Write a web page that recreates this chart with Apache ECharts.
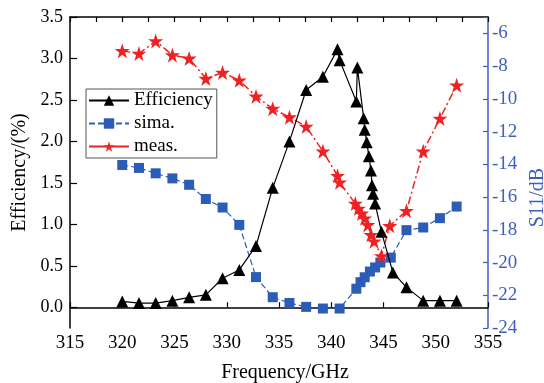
<!DOCTYPE html>
<html>
<head>
<meta charset="utf-8">
<script src="https://cdn.jsdelivr.net/npm/echarts@6/dist/echarts.min.js"></script>
<style>html,body{margin:0;padding:0;background:#fff;}#c{width:544px;height:383px;}</style>
</head>
<body>
<div id="c"></div>
<script>
// Efficiency (%) — left axis
const effFreq = [320, 321.6, 323.2, 324.8, 326.4, 328.0, 329.6, 331.2, 332.8, 334.4, 336.0, 337.6, 339.2, 340.6, 340.8, 342.4, 342.5, 343.1, 343.2, 343.4, 343.6, 343.8, 343.9, 344.0, 344.2, 344.8, 345.9, 347.2, 348.8, 350.4, 352.0];
const effVals = [0.07, 0.05, 0.05, 0.08, 0.12, 0.15, 0.35, 0.45, 0.74, 1.44, 2.0, 2.62, 2.78, 3.11, 2.98, 2.48, 2.89, 2.28, 2.14, 1.99, 1.82, 1.65, 1.47, 1.37, 1.25, 0.91, 0.42, 0.24, 0.08, 0.08, 0.08];
// sima. S11 (dB) — right axis
const simFreq = [320, 321.6, 323.2, 324.8, 326.4, 328.0, 329.6, 331.2, 332.8, 334.4, 336.0, 337.6, 339.2, 340.8, 342.4, 342.8, 343.2, 343.7, 344.2, 344.7, 345.7, 347.2, 348.8, 350.4, 352.0];
const simVals = [-14.04, -14.22, -14.55, -14.86, -15.25, -16.12, -16.64, -17.7, -20.89, -22.12, -22.47, -22.71, -22.81, -22.81, -21.6, -21.2, -20.9, -20.55, -20.3, -20.0, -19.7, -18.02, -17.86, -17.29, -16.58];
// meas. S11 (dB) — right axis
const measFreq = [320, 321.6, 323.2, 324.8, 326.4, 328.0, 329.6, 331.2, 332.8, 334.4, 336.0, 337.6, 339.2, 340.6, 340.8, 342.3, 342.6, 342.9, 343.2, 343.5, 343.8, 344.1, 344.8, 345.6, 347.2, 348.8, 350.4, 352.0];
const measVals = [-7.07, -7.23, -6.47, -7.33, -7.53, -8.76, -8.39, -8.87, -9.85, -10.6, -11.12, -11.69, -13.2, -14.7, -15.1, -16.4, -16.7, -17.0, -17.3, -17.7, -18.3, -18.7, -19.6, -17.76, -16.84, -13.2, -11.2, -9.17];
const leftTicks = [0, 0.5, 1.0, 1.5, 2.0, 2.5, 3.0, 3.5];

const FONT = '"Liberation Serif", "DejaVu Serif", serif';
const BLUE_AX = '#3f5fbf';
const zip = (a, b) => a.map((v, i) => [v, b[i]]);

const chart = echarts.init(document.getElementById('c'), null, {renderer: 'canvas'});
chart.setOption({
  backgroundColor: '#ffffff',
  animation: false,
  textStyle: {fontFamily: FONT},
  grid: {left: 70, top: 17, right: 56, bottom: 55, containLabel: false, outerBoundsMode: 'none'},
  legend: {
    orient: 'vertical', left: 86, top: 89,
    itemWidth: 40, itemHeight: 13, itemGap: 4,
    padding: [2, 4, 2, 2],
    borderColor: '#555', borderWidth: 1,
    textStyle: {fontFamily: FONT, fontSize: 19, color: '#000'},
    data: [
      {name: 'Efficiency'},
      {name: 'sima.'},
      {name: 'meas.', lineStyle: {type: 'solid'}}
    ]
  },
  xAxis: [
    {
      type: 'value', position: 'bottom', min: 315, max: 355, interval: 5,
      name: 'Frequency/GHz', nameLocation: 'middle', nameGap: 35,
      nameTextStyle: {fontFamily: FONT, fontSize: 20, color: '#000', padding: [0, 0, 0, 12]},
      axisLine: {show: true, lineStyle: {color: '#000', width: 1.5}},
      axisTick: {show: true, inside: true, length: 5, lineStyle: {color: '#000', width: 1.2}},
      axisLabel: {fontFamily: FONT, fontSize: 19, color: '#000', margin: 6},
      splitLine: {show: false}
    },
    {
      type: 'value', position: 'top', min: 315, max: 355, interval: 2.5,
      axisLine: {show: true, lineStyle: {color: '#000', width: 1.5}},
      axisTick: {show: true, inside: true, length: 5, lineStyle: {color: '#000', width: 1.2}},
      axisLabel: {show: false},
      splitLine: {show: false}
    }
  ],
  yAxis: [
    {
      type: 'value', position: 'left', min: -0.25, max: 3.5,
      name: 'Efficiency/(%)', nameLocation: 'middle', nameGap: 40,
      nameTextStyle: {fontFamily: FONT, fontSize: 20, color: '#000'},
      axisLine: {show: true, lineStyle: {color: '#000', width: 1.5}},
      axisTick: {show: true, inside: true, length: 7, customValues: leftTicks, lineStyle: {color: '#000', width: 1.2}},
      axisLabel: {fontFamily: FONT, fontSize: 18, color: '#000', margin: 7, customValues: leftTicks,
        formatter: v => v.toFixed(1)},
      splitLine: {show: false}
    },
    {
      type: 'value', position: 'right', min: -24, max: -5, interval: 2,
      name: 'S11/dB', nameLocation: 'middle', nameGap: 34, nameRotate: 90,
      nameTextStyle: {fontFamily: FONT, fontSize: 20, color: BLUE_AX, padding: [0, 50, 0, 0]},
      axisLine: {show: true, lineStyle: {color: BLUE_AX, width: 1.5}},
      axisTick: {show: true, inside: true, length: 5, lineStyle: {color: BLUE_AX, width: 1.2}},
      axisLabel: {fontFamily: FONT, fontSize: 19, color: BLUE_AX, margin: 4,
        formatter: v => (v === -5 ? '' : String(v))},
      splitLine: {show: false}
    }
  ],
  series: [
    {
      name: 'Efficiency', type: 'line', xAxisIndex: 0, yAxisIndex: 0,
      data: zip(effFreq, effVals),
      symbol: 'triangle', symbolSize: 12,
      lineStyle: {color: '#000', width: 1.2, type: 'solid'},
      itemStyle: {color: '#000'},
      z: 4
    },
    {
      name: 'sima.', type: 'line', xAxisIndex: 0, yAxisIndex: 1,
      data: zip(simFreq, simVals),
      symbol: 'rect', symbolSize: 10,
      lineStyle: {color: '#2a5cb8', width: 1.2, type: [6, 3]},
      itemStyle: {color: '#2a5cb8'},
      z: 2
    },
    {
      name: 'meas.', type: 'line', xAxisIndex: 0, yAxisIndex: 1,
      data: zip(measFreq, measVals),
      symbol: 'path://M50,0 L61.8,35.1 L98.9,35.1 L68.9,57.3 L80.2,92.7 L50,70.9 L19.8,92.7 L31.1,57.3 L1.1,35.1 L38.2,35.1 Z',
      symbolSize: 15,
      lineStyle: {color: '#ee2222', width: 1.5, type: [8, 3, 2, 3]},
      itemStyle: {color: '#ee2222'},
      z: 3
    }
  ]
});
</script>
</body>
</html>
